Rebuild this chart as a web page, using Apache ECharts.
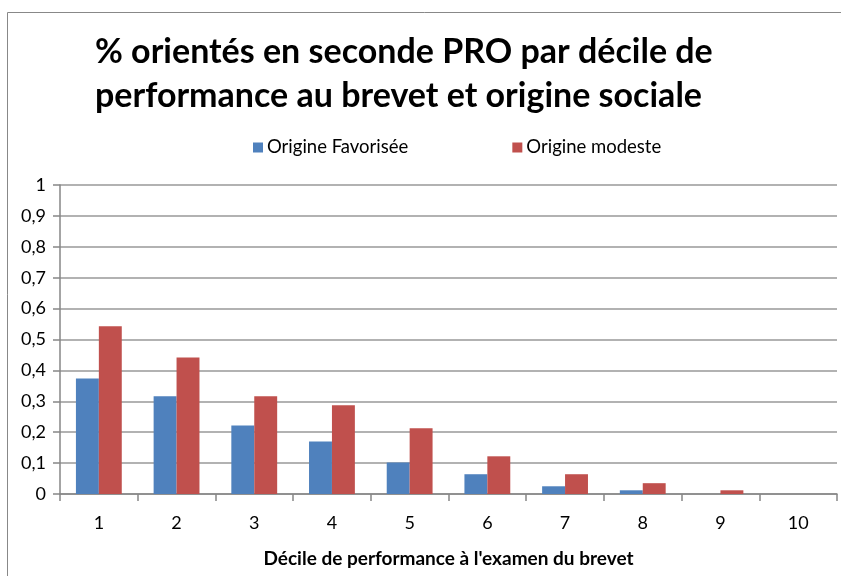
<!DOCTYPE html>
<html>
<head>
<meta charset="utf-8">
<script src="https://cdn.jsdelivr.net/npm/echarts@6/dist/echarts.min.js"></script>
<style>
  html, body { margin: 0; padding: 0; background: #fff; }
  #chart { width: 841px; height: 576px; }
</style>
</head>
<body>
<div id="chart"></div>
<script>
// deciles on the x axis
const deciles = ['1', '2', '3', '4', '5', '6', '7', '8', '9', '10'];
// share oriented to seconde PRO
const favorisee = [0.374, 0.316, 0.222, 0.170, 0.102, 0.064, 0.025, 0.012, 0, 0];
const modeste = [0.543, 0.442, 0.316, 0.287, 0.213, 0.122, 0.064, 0.035, 0.012, 0];

const chart = echarts.init(document.getElementById('chart'));
const font = 'Lato, "Liberation Sans", sans-serif';

const option = {
    animation: false,
    backgroundColor: '#fff',
    title: {
        text: '% orientés en seconde PRO par décile de\nperformance au brevet et origine sociale',
        left: 90,
        top: 25,
        textStyle: {
            fontFamily: font,
            fontWeight: 'bold',
            fontSize: 34,
            lineHeight: 44,
            color: '#000'
        }
    },
    legend: {
        top: 133,
        left: 248,
        itemWidth: 10,
        itemHeight: 10,
        itemGap: 104,
        icon: 'rect',
        textStyle: { fontFamily: font, fontSize: 18.5, color: '#000', padding: [0, 0, 0, -1] },
        data: ['Origine Favorisée', 'Origine modeste']
    },
    graphic: [{
        type: 'rect',
        shape: { x: 7.5, y: 12.5, width: 840, height: 600 },
        style: { fill: 'none', stroke: '#888', lineWidth: 1 },
        silent: true
    }],
    grid: { left: 60, right: 4, top: 185, bottom: 82, outerBoundsMode: 'none' },
    xAxis: {
        type: 'category',
        data: deciles,
        name: "Décile de performance à l'examen du brevet",
        nameLocation: 'middle',
        nameGap: 55,
        nameTextStyle: { fontFamily: font, fontWeight: 'bold', fontSize: 19, color: '#000' },
        axisLine: { lineStyle: { color: '#868686', width: 1.5 } },
        axisTick: { show: true, length: 7, inside: false, lineStyle: { color: '#868686', width: 1.5 } },
        axisLabel: { fontFamily: font, fontSize: 18, color: '#000', margin: 20 },
        splitLine: { show: false }
    },
    yAxis: {
        type: 'value',
        min: 0,
        max: 1,
        interval: 0.1,
        axisLine: { show: true, lineStyle: { color: '#868686', width: 1.5 } },
        axisTick: { show: true, length: 7, lineStyle: { color: '#868686', width: 1.5 } },
        axisLabel: {
            fontFamily: font,
            fontSize: 18,
            color: '#000',
            margin: 14,
            formatter: function (v) { return String(Math.round(v * 10) / 10).replace('.', ','); }
        },
        splitLine: { show: true, lineStyle: { color: '#999', width: 1.5 } }
    },
    series: [{
        name: 'Origine Favorisée',
        type: 'bar',
        data: favorisee,
        barGap: '0%',
        barCategoryGap: '41%',
        itemStyle: { color: '#4F81BD' }
    }, {
        name: 'Origine modeste',
        type: 'bar',
        data: modeste,
        itemStyle: { color: '#C0504D' }
    }]
};
chart.setOption(option);
</script>
</body>
</html>
